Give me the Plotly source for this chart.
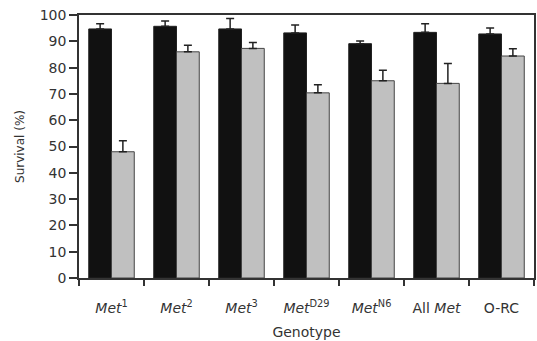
import plotly.graph_objects as go

genotypes = ["<i>Met</i><sup>1</sup>", "<i>Met</i><sup>2</sup>", "<i>Met</i><sup>3</sup>",
             "<i>Met</i><sup>D29</sup>", "<i>Met</i><sup>N6</sup>", "All <i>Met</i>", "O-RC"]
control = [94.7, 95.7, 94.7, 93.2, 89.1, 93.4, 92.8]
control_err = [2.0, 2.0, 4.0, 3.0, 1.0, 3.3, 2.3]
treated = [48.0, 86.0, 87.3, 70.4, 75.0, 74.0, 84.4]
treated_err = [4.2, 2.5, 2.2, 3.1, 4.0, 7.6, 2.8]

font = "DejaVu Sans"
fig = go.Figure()
fig.add_trace(go.Bar(
    x=genotypes, y=control, marker=dict(color="#111111", line=dict(color="#222222", width=1)),
    error_y=dict(type="data", array=control_err, arrayminus=[0]*7, symmetric=False,
                 color="#222222", thickness=1.5, width=4),
))
fig.add_trace(go.Bar(
    x=genotypes, y=treated, marker=dict(color="#c0c0c0", line=dict(color="#444444", width=1)),
    error_y=dict(type="data", array=treated_err, arrayminus=[0]*7, symmetric=False,
                 color="#222222", thickness=1.5, width=4),
))
fig.update_layout(
    width=537, height=341, barmode="group", bargap=0.3, bargroupgap=0,
    margin=dict(l=79, r=1, t=15, b=63), showlegend=False,
    plot_bgcolor="white", paper_bgcolor="white",
    font=dict(family=font, size=13, color="#333333"),
)
fig.update_xaxes(
    type="category", tickson="boundaries", ticks="outside", ticklen=6, tickwidth=1.5,
    tickcolor="#333", showline=True, linecolor="#333", linewidth=1.5, mirror=True,
    showgrid=False, title=dict(text="Genotype", font=dict(size=14), standoff=13),
    tickfont=dict(size=14), ticklabelstandoff=16,
)
fig.update_yaxes(
    range=[0, 100], dtick=10, ticks="outside", ticklen=8, tickwidth=1.5, tickcolor="#333",
    showline=True, linecolor="#333", linewidth=1.5, mirror=True, showgrid=False,
    title=dict(text="Survival (%)", font=dict(size=12), standoff=13),
    tickfont=dict(size=14), zeroline=False,
)
fig.write_html("out.html")
